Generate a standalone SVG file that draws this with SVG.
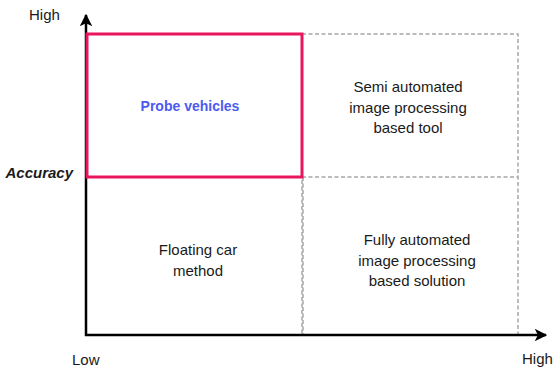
<svg xmlns="http://www.w3.org/2000/svg" width="557" height="368" viewBox="0 0 557 368">
<style>
text{font-family:"Liberation Sans",Arial,sans-serif;font-size:15px;fill:#1a1a1a}
.c{text-anchor:middle}
.grid{fill:none;stroke:#a6a6a6;stroke-width:1.5;stroke-dasharray:4 2.5}
.axis{stroke:#000;stroke-width:2.5;fill:none}
</style>
<defs>
<marker id="ah" viewBox="0 0 10 10" refX="9" refY="5" markerWidth="5" markerHeight="5" orient="auto" markerUnits="strokeWidth">
<path d="M0,0 L10,5 L0,10 L2.5,5 Z" fill="#000"/>
</marker>
</defs>
<rect width="557" height="368" fill="#fff"/>
<g id="grid">
<rect class="grid" x="302" y="34" width="216" height="301"/>
<line class="grid" x1="302" y1="177" x2="518" y2="177"/>
<line class="grid" x1="303" y1="177" x2="303" y2="335"/>
</g>
<g id="connectors">
<line class="axis" x1="86" y1="336" x2="86" y2="15" marker-end="url(#ah)"/>
<line class="axis" x1="85" y1="335" x2="546" y2="335" marker-end="url(#ah)"/>
</g>
<g id="probe">
<rect x="87" y="34" width="215" height="143" fill="none" stroke="#e8175d" stroke-width="3"/>
<text class="c" x="190" y="111" style="font-weight:bold;font-size:14px;fill:#4b5bf0">Probe vehicles</text>
</g>
<g id="semi">
<text class="c" x="408" y="92">Semi automated</text>
<text class="c" x="408" y="113">image processing</text>
<text class="c" x="408" y="133">based tool</text>
</g>
<g id="floating">
<text class="c" x="198" y="255">Floating car</text>
<text class="c" x="198" y="276">method</text>
</g>
<g id="fully">
<text class="c" x="417" y="245">Fully automated</text>
<text class="c" x="417" y="266">image processing</text>
<text class="c" x="417" y="286">based solution</text>
</g>
<g id="labels">
<text x="29" y="20">High</text>
<text x="73" y="178" style="font-weight:bold;font-style:italic;text-anchor:end">Accuracy</text>
<text x="72" y="365">Low</text>
<text x="522" y="364">High</text>
</g>
</svg>
